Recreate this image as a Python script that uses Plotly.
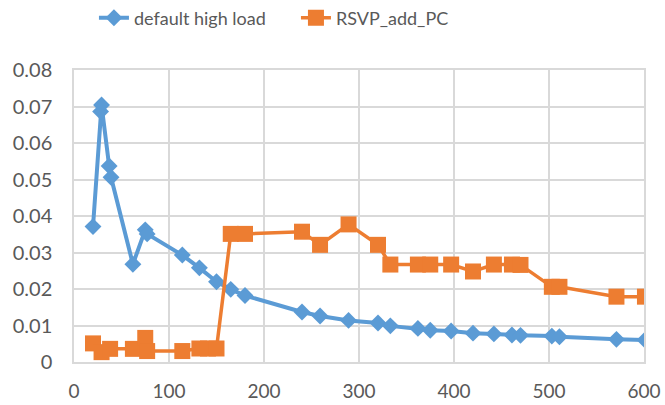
import plotly.graph_objects as go

x_blue = [20, 28, 29, 37, 39, 62, 75, 77, 114, 132, 150, 165, 180, 240, 259, 289, 320, 333,
          362, 375, 397, 420, 442, 461, 470, 503, 511, 571, 601]
y_blue = [0.0371, 0.0686, 0.0704, 0.0537, 0.0506, 0.0268, 0.0362, 0.0351, 0.0293, 0.0258,
          0.0220, 0.0199, 0.0182, 0.0137, 0.0126, 0.0114, 0.0107, 0.0099,
          0.0092, 0.0087, 0.0085, 0.0079, 0.0077, 0.0074, 0.0073, 0.0071, 0.0069, 0.0062, 0.0060]

x_orange = [20, 29, 38, 62, 75, 77, 114, 132, 141, 150, 165, 180, 240, 259, 289, 320, 333,
            362, 375, 397, 420, 442, 461, 470, 503, 511, 571, 601]
y_orange = [0.0051, 0.0027, 0.0036, 0.0036, 0.0066, 0.0030, 0.0030, 0.0037, 0.0037, 0.0037,
            0.0351, 0.0351, 0.0357, 0.0321, 0.0377, 0.0321, 0.0267,
            0.0267, 0.0267, 0.0267, 0.0248, 0.0267, 0.0267, 0.0266, 0.0206, 0.0206, 0.0179, 0.0179]

series_names = ["default high load", "RSVP_add_PC"]
x_ticks = [0, 100, 200, 300, 400, 500, 600]
y_ticks = [0, 0.01, 0.02, 0.03, 0.04, 0.05, 0.06, 0.07, 0.08]

BLUE = "#5B9BD5"
ORANGE = "#ED7D31"
GRID = "#D9D9D9"
TXT = "#595959"
FONT = "Lato"

fig = go.Figure()
fig.add_trace(go.Scatter(
    x=x_blue, y=y_blue, name=series_names[0], mode="lines+markers",
    line=dict(color=BLUE, width=4),
    marker=dict(symbol="diamond", size=13, color=BLUE),
))
fig.add_trace(go.Scatter(
    x=x_orange, y=y_orange, name=series_names[1], mode="lines+markers",
    line=dict(color=ORANGE, width=3.5),
    marker=dict(symbol="square", size=16, color=ORANGE),
))

fig.update_layout(
    width=665, height=405,
    margin=dict(l=74, r=21, t=70, b=43, autoexpand=False),
    paper_bgcolor="white", plot_bgcolor="white",
    font=dict(family=FONT, color=TXT),
    showlegend=True,
    legend=dict(
        orientation="h", x=0.035, xanchor="left", y=1.178, yanchor="middle",
        font=dict(family=FONT, size=18, color=TXT),
        entrywidth=157, entrywidthmode="pixels",
        bgcolor="rgba(0,0,0,0)",
    ),
)
fig.update_xaxes(
    range=[0, 600], tickvals=x_ticks, ticktext=[str(v) for v in x_ticks],
    showgrid=True, gridcolor=GRID, gridwidth=1.5,
    showline=True, linecolor=GRID, linewidth=1.5, mirror=True,
    zeroline=False, ticks="", ticklabelstandoff=11,
    tickfont=dict(size=19, family=FONT, color=TXT),
)
fig.update_yaxes(
    range=[0, 0.08], tickvals=y_ticks, ticktext=["0" if v == 0 else f"{v:.2f}" for v in y_ticks],
    showgrid=True, gridcolor=GRID, gridwidth=1.5,
    showline=True, linecolor=GRID, linewidth=1.5, mirror=True,
    zeroline=False, ticks="", ticklabelstandoff=16,
    tickfont=dict(size=20, family=FONT, color=TXT),
)

fig.write_html("out.html")
